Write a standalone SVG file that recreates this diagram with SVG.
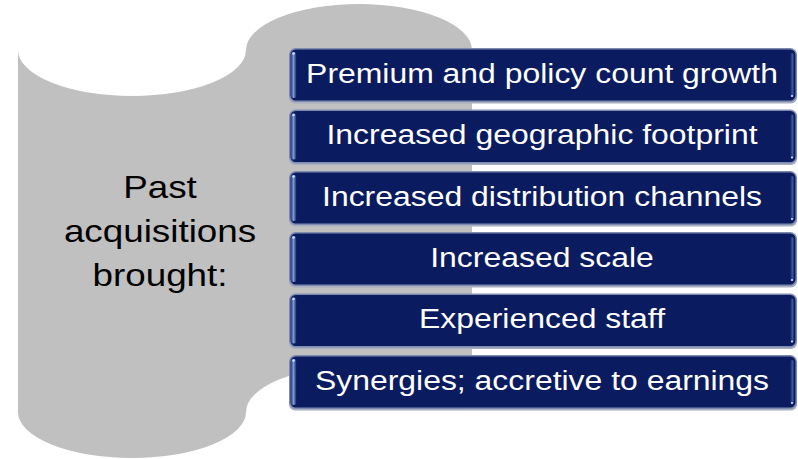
<svg xmlns="http://www.w3.org/2000/svg" width="798" height="459" viewBox="0 0 798 459">
  <defs>
    <linearGradient id="lhl" x1="0" y1="0" x2="1" y2="0">
      <stop offset="0" stop-color="#2a3f86"/>
      <stop offset="0.45" stop-color="#7f98d4"/>
      <stop offset="1" stop-color="#13266c"/>
    </linearGradient>
    <linearGradient id="rhl" x1="0" y1="0" x2="1" y2="0">
      <stop offset="0" stop-color="#0b1b60"/>
      <stop offset="0.6" stop-color="#3f559a"/>
      <stop offset="1" stop-color="#1a2c70"/>
    </linearGradient>
    <style>
      .box{fill:#0a1b60;stroke:#7d8bb0;stroke-width:1.5}
      .shadow{fill:#a9aec0}
      .lh{fill:url(#lhl)}
      .rh{fill:url(#rhl)}
      .dot{fill:#d6e0f5}
      .t{font-family:"Liberation Sans",Arial,sans-serif;font-size:28px;fill:#ffffff;text-anchor:middle}
      .lt{font-family:"Liberation Sans",Arial,sans-serif;font-size:32px;fill:#000000;text-anchor:middle}
    </style>
    <g id="boxshape">
      <rect class="shadow" x="289" y="1.5" width="508" height="54" rx="6"/>
      <rect class="box" x="289.75" y="0.75" width="506.5" height="52.5" rx="6"/>
      <rect class="lh" x="291" y="4" width="5.5" height="46" rx="2.5"/>
      <rect class="rh" x="790" y="5" width="4" height="44" rx="2"/>
      <circle class="dot" cx="293.5" cy="5.5" r="1.3"/>
      <circle class="dot" cx="792" cy="48" r="1.1"/>
    </g>
  </defs>

  <g id="scroll">
    <path d="M18,50 A114,46 0 0 0 246,50 A113,46 0 0 1 472,50 L472,412 A113,46 0 0 0 246,412 A114,46 0 0 1 18,412 Z" fill="#c0c0c0"/>
    <g transform="translate(160,0) scale(1.15,1)">
      <text class="lt" x="0" y="198">Past</text>
      <text class="lt" x="0" y="242">acquisitions</text>
      <text class="lt" x="0" y="286">brought:</text>
    </g>
  </g>

  <g id="connectors"></g>

  <g id="box1">
    <use href="#boxshape" transform="translate(0,48)"/>
    <text class="t" transform="translate(542,82.5) scale(1.14,1)">Premium and policy count growth</text>
  </g>
  <g id="box2">
    <use href="#boxshape" transform="translate(0,109.5)"/>
    <text class="t" transform="translate(542,144) scale(1.14,1)">Increased geographic footprint</text>
  </g>
  <g id="box3">
    <use href="#boxshape" transform="translate(0,171)"/>
    <text class="t" transform="translate(542,205.5) scale(1.14,1)">Increased distribution channels</text>
  </g>
  <g id="box4">
    <use href="#boxshape" transform="translate(0,232)"/>
    <text class="t" transform="translate(542,266.5) scale(1.14,1)">Increased scale</text>
  </g>
  <g id="box5">
    <use href="#boxshape" transform="translate(0,293.5)"/>
    <text class="t" transform="translate(542,328) scale(1.14,1)">Experienced staff</text>
  </g>
  <g id="box6">
    <use href="#boxshape" transform="translate(0,355)"/>
    <text class="t" transform="translate(542,389.5) scale(1.14,1)">Synergies; accretive to earnings</text>
  </g>
</svg>
